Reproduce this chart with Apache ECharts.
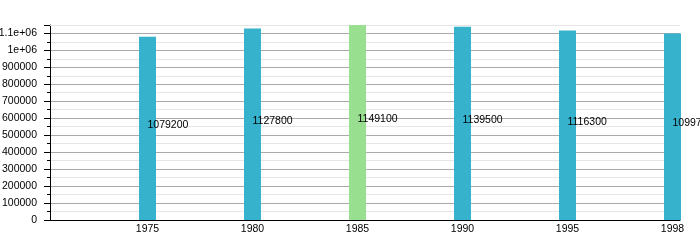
<!DOCTYPE html>
<html><head><meta charset="utf-8">
<script src="https://cdn.jsdelivr.net/npm/echarts@6/dist/echarts.min.js"></script>
<style>html,body{margin:0;padding:0;background:#fff}#c{width:700px;height:250px}</style>
</head><body><div id="c"></div>
<script>
const years = ['1975','1980','1985','1990','1995','1998'];
const values = [1079200, 1127800, 1149100, 1139500, 1116300, 1099700];
const highlightYear = '1985';
const yMax = 1149100;
const yStep = 100000;

const teal = '#36b2cc', green = '#98e08f';
const font = 'Arial, "Liberation Sans", sans-serif';
const chart = echarts.init(document.getElementById('c'), null, {renderer:'canvas'});
function fmtY(v){
  if (v % yStep !== 0) return '';
  if (v >= 1e6) return (v/1e6) + 'e+06';
  return String(v);
}
const splitColors = [];
for (let v = 0; v <= yMax; v += yStep) splitColors.push('#aaaaaa');
splitColors.push('#e6e6e6');
chart.setOption({
  animation:false,
  grid:[
    {left:50, width:630, top:25, height:195, outerBoundsMode:'none', containLabel:false},
    {left:95, width:630, top:25, height:195, outerBoundsMode:'none', containLabel:false}
  ],
  xAxis:[
    {type:'category', gridIndex:0, data:years, boundaryGap:true,
     axisLine:{show:true, lineStyle:{color:'#000', width:1}}, axisTick:{show:false}, axisLabel:{show:false}, splitLine:{show:false}},
    {type:'category', gridIndex:0, position:'top', data:years,
     axisLine:{show:true, lineStyle:{color:'#e6e6e6', width:1}}, axisTick:{show:false}, axisLabel:{show:false}},
    {type:'category', gridIndex:1, data:years, boundaryGap:true,
     axisLine:{show:false}, axisTick:{show:false},
     axisLabel:{color:'#000', fontSize:10.5, fontFamily:font, margin:4}}
  ],
  yAxis:[
    {type:'value', gridIndex:0, min:0, max:yMax, interval:yStep,
     axisLine:{show:true, lineStyle:{color:'#000', width:1}},
     axisTick:{show:true, length:6, lineStyle:{color:'#000'}},
     minorTick:{show:true, splitNumber:2, length:3, lineStyle:{color:'#000'}},
     axisLabel:{color:'#000', fontSize:10.5, fontFamily:font, margin:13, formatter:fmtY, showMaxLabel:true},
     splitLine:{show:true, lineStyle:{color:splitColors, width:1}},
     minorSplitLine:{show:true, lineStyle:{color:'#e6e6e6', width:1}}},
    {type:'value', gridIndex:1, min:0, max:yMax, show:false, splitLine:{show:false}}
  ],
  series:[{
    type:'bar', xAxisIndex:2, yAxisIndex:1, barWidth:17, clip:false,
    data: values.map((v,i)=>({value:v, itemStyle:{color: years[i]===highlightYear ? green : teal}})),
    label:{show:true, position:['50%','50%'], align:'left', verticalAlign:'middle', offset:[0,-3.5],
      color:'#000', fontSize:10.5, fontFamily:font}
  }]
});
</script></body></html>
